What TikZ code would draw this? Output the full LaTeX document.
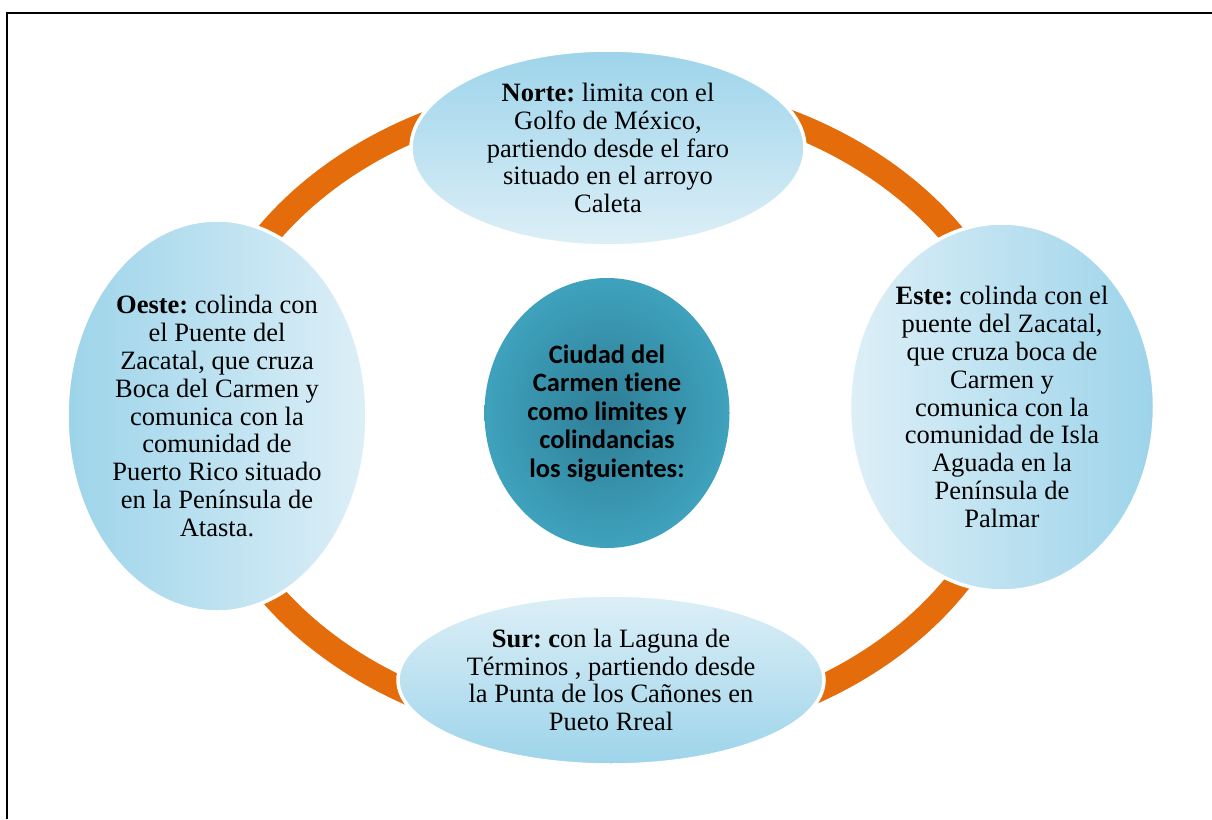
\documentclass[tikz,border=0pt]{standalone}
\usepackage{fontspec}
\setmainfont{Liberation Serif}
\newfontfamily\carlito[Ligatures=NoCommon]{Carlito}
\usepackage{tikz}
\usetikzlibrary{shapes.geometric}
\definecolor{naranja}{HTML}{E46C0A}
\definecolor{celesteosc}{HTML}{9DD4EA}
\definecolor{celesteclaro}{HTML}{DDEFF7}
\definecolor{tealborde}{HTML}{3FA2BD}
\definecolor{tealcentro}{HTML}{2E7D95}
\frenchspacing

\begin{document}
\begin{tikzpicture}[x=1pt, y=-1pt,
		oval/.style={ellipse, draw=white, line width=3.5pt, inner sep=0pt},
		texto/.style={align=center, inner sep=0pt, font=\fontsize{26.5}{27.8}\selectfont},
		anillo/.style={draw=naranja, line width=25pt}]
		\useasboundingbox (0,0) rectangle (1212,819);
		\draw[line width=1.5pt] (7,819) -- (7,13) -- (1212,13);
		\draw[anillo] (610,412) ellipse [x radius=410pt, y radius=322pt];
		\node[oval, top color=celesteosc, bottom color=celesteclaro, minimum width=394pt, minimum height=196pt] (norte) at (608,148) {};
		\node[oval, left color=celesteosc, right color=celesteclaro, minimum width=300pt, minimum height=392pt] (oeste) at (217,416) {};
		\node[oval, left color=celesteclaro, right color=celesteosc, minimum width=305pt, minimum height=368pt] (este) at (1002,407) {};
		\node[oval, top color=celesteclaro, bottom color=celesteosc, minimum width=426pt, minimum height=170pt] (sur) at (611,680) {};
		\node[ellipse, inner sep=0pt, inner color=tealcentro, outer color=tealborde, minimum width=245pt, minimum height=270pt] (centro) at (607,413) {};
		\node[texto] at (norte) {\textbf{Norte:} limita con el\\Golfo de México,\\partiendo desde el faro\\situado en el arroyo\\Caleta};
		\node[texto] at (oeste) {\textbf{Oeste:} colinda con\\el Puente del\\Zacatal, que cruza\\Boca del Carmen y\\comunica con la\\comunidad de\\Puerto Rico situado\\en la Península de\\Atasta.};
		\node[texto] at (este) {\textbf{Este:} colinda con el\\puente del Zacatal,\\que cruza boca de\\Carmen y\\comunica con la\\comunidad de Isla\\Aguada en la\\Península de\\Palmar};
		\node[texto] at (sur) {\textbf{Sur: c}on la Laguna de\\Términos , partiendo desde\\la Punta de los Cañones en\\Pueto Rreal};
		\node[texto, font=\carlito\bfseries\fontsize{26.5}{28.5}\selectfont] at (centro) {Ciudad del\\Carmen tiene\\como limites y\\colindancias\\los siguientes:};
	\end{tikzpicture}
\end{document}
